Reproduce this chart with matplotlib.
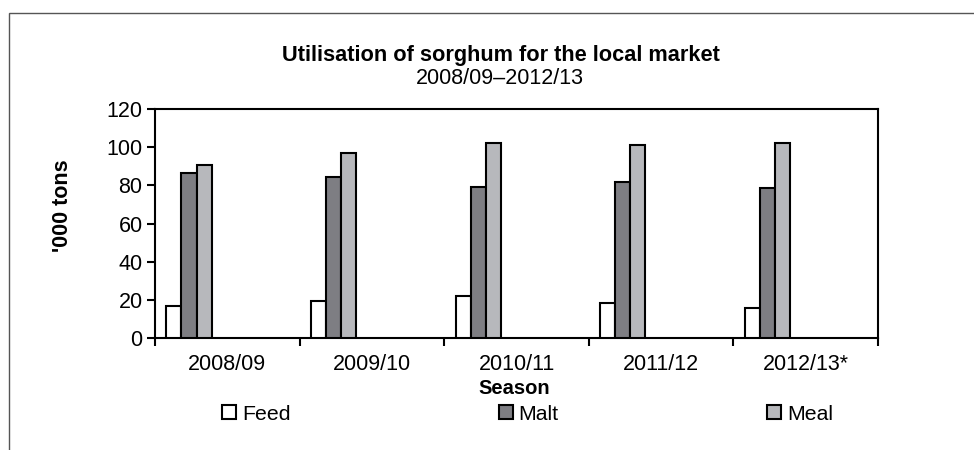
import matplotlib
matplotlib.use("Agg")
import matplotlib.pyplot as plt
import numpy as np
from matplotlib.patches import Rectangle

plt.rcParams["font.family"] = ["Liberation Sans", "DejaVu Sans"]

seasons = ["2008/09", "2009/10", "2010/11", "2011/12", "2012/13*"]
feed = [16.6, 19.2, 22.1, 18.3, 15.9]
malt = [86.4, 84.6, 79.2, 81.5, 78.6]
meal = [90.6, 96.9, 102.4, 101.0, 102.4]

series_names = ["Feed", "Malt", "Meal"]
series_colors = ["#ffffff", "#7e7e83", "#b7b8bc"]

fig = plt.figure(figsize=(9.74, 4.5), dpi=100)
ax = fig.add_axes([155 / 974, 1 - 338 / 450, 723 / 974, 229 / 450])

x = np.arange(len(seasons))
bar_w = 0.104
# bars sit in the left part of each category slot (as in the original Excel chart)
offsets = [-0.369, -0.265, -0.161]
for vals, name, color, off in zip([feed, malt, meal], series_names, series_colors, offsets):
    ax.bar(x + off, vals, width=bar_w, color=color, edgecolor="black",
           linewidth=1.5, label=name, zorder=3)

ax.set_xlim(-0.5, len(seasons) - 0.5)
ax.set_ylim(0, 120)
ax.set_yticks(range(0, 121, 20))
ax.set_xticks(x)
ax.set_xticklabels(seasons)
ax.set_xticks(np.arange(-0.5, len(seasons)), minor=True)
ax.tick_params(axis="x", which="major", length=0, pad=11.5, labelsize=15.5)
ax.tick_params(axis="x", which="minor", length=5.5, width=1.5, direction="out")
ax.tick_params(axis="y", length=6, width=1.5, pad=3, labelsize=15.5)
for sp in ax.spines.values():
    sp.set_linewidth(1.5)
    sp.set_color("black")

fig.text(501 / 974, 1 - 55 / 450, "Utilisation of sorghum for the local market",
         ha="center", va="center", fontsize=15.7, fontweight="bold")
fig.text(500 / 974, 1 - 78 / 450, "2008/09\u20132012/13",
         ha="center", va="center", fontsize=15.5)
fig.text(514 / 974, 1 - 389 / 450, "Season", ha="center", va="center",
         fontsize=14.5, fontweight="bold")
fig.text(63 / 974, 1 - 206 / 450, "'000 tons", ha="center", va="center",
         fontsize=15.5, fontweight="bold", rotation=90)

leg = fig.legend(loc="center left", bbox_to_anchor=(222 / 974, 1 - 414 / 450),
                 ncol=3, frameon=False, fontsize=15.3, handlelength=0.66,
                 handleheight=0.66, handletextpad=0.28, columnspacing=9.8,
                 borderpad=0, borderaxespad=0)

# outer chart-area frame, running off the right and bottom edges
fig.patches.append(Rectangle((9 / 974, -0.1), 1.2, 1 - 13 / 450 + 0.1,
                             transform=fig.transFigure, fill=False,
                             edgecolor="#555555", linewidth=1.0))

fig.savefig("out.png", dpi=100)
